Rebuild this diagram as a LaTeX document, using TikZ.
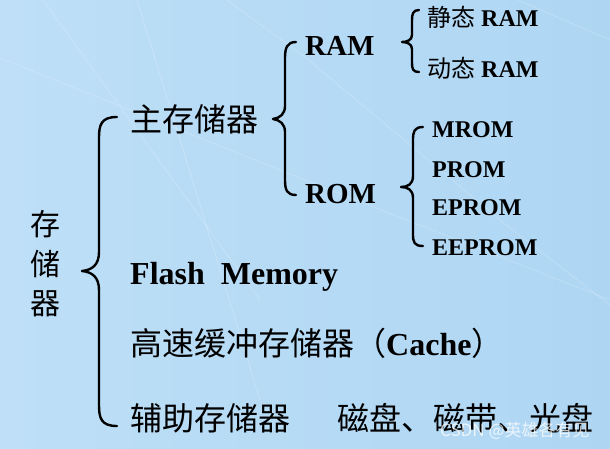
\documentclass[tikz,border=0pt]{standalone}
\usepackage{fontspec}
\setmainfont{Liberation Serif}
\newfontfamily\cjk{Noto Sans CJK SC}
\tikzset{
  brace/.style={line width=2.4pt, line cap=round, line join=round, draw=black},
  bgline/.style={draw=white, opacity=0.2, line width=0.8pt},
  lbl/.style={anchor=base west, inner sep=0pt, text=black},
  big/.style={font=\fontsize{32}{38}\selectfont},
  mid/.style={font=\fontsize{29}{34}\selectfont\bfseries},
  small/.style={font=\fontsize{24}{28}\selectfont},
  smallb/.style={font=\fontsize{24}{28}\selectfont\bfseries},
}
\begin{document}
\begin{tikzpicture}[x=1pt,y=-1pt]
\useasboundingbox (0,0) rectangle (610,448);
\shade[left color={rgb,255:red,190;green,223;blue,247}, right color={rgb,255:red,174;green,214;blue,243}] (0,0) rectangle (610,448);
% faint background streaks
\draw[bgline] (43,0) -- (260,300);
\draw[bgline] (137,0) -- (260,400);
\draw[bgline] (227,0) -- (305,57) -- (505,224) -- (610,305);
\draw[bgline] (0,58) -- (305,180) -- (610,300);
\draw[bgline] (518,0) -- (610,40);

% left vertical label
\node[anchor=base, inner sep=0pt, font=\fontsize{30}{36}\selectfont\cjk] (c1) at (45,235) {存};
\node[anchor=base, inner sep=0pt, font=\fontsize{30}{36}\selectfont\cjk] (c2) at (45,275) {储};
\node[anchor=base, inner sep=0pt, font=\fontsize{30}{36}\selectfont\cjk] (c3) at (45,314) {器};

% main brace
\draw[brace] (117,117) .. controls (101,117) and (99,125) .. (99,138) -- (99,252) .. controls (99,265) and (92,270) .. (82,271) .. controls (92,272) and (99,277) .. (99,290) -- (99,405) .. controls (99,418) and (101,426) .. (117,426);

% level 1
\node[lbl, big] (main) at (130,131) {\cjk 主存储器};
\node[lbl, big] (flash) at (130,284) {\bfseries Flash\ \ Memory};
\node[lbl, big] (cache) at (130,355) {{\cjk 高速缓冲存储器（}{\bfseries Cache}{\cjk ）}};
\node[lbl, big] (aux) at (130,430) {\cjk 辅助存储器};
\node[lbl, big] (media) at (337,430) {\cjk 磁盘、磁带、光盘};

% brace for main memory
\draw[brace] (296,42) .. controls (287,42) and (285,48) .. (285,58) -- (285,106) .. controls (285,114) and (280,118) .. (273,119) .. controls (280,120) and (285,124) .. (285,132) -- (285,180) .. controls (285,190) and (287,195) .. (296,195);

\node[lbl, mid] (ram) at (305,55) {RAM};
\node[lbl, mid] (rom) at (305,203) {ROM};

% RAM brace
\draw[brace] (419,10) .. controls (413,10) and (412,14) .. (412,20) -- (412,35) .. controls (412,40) and (407,42) .. (402,42) .. controls (407,42) and (412,44) .. (412,49) -- (412,63) .. controls (412,69) and (413,72) .. (419,72);
\node[lbl, small] (sram) at (427,26) {{\cjk 静态} \bfseries RAM};
\node[lbl, small] (dram) at (427,77) {{\cjk 动态} \bfseries RAM};

% ROM brace
\draw[brace] (423,127) .. controls (414,127) and (413,132) .. (413,140) -- (413,176) .. controls (413,184) and (408,187) .. (401,187) .. controls (408,187) and (413,190) .. (413,198) -- (413,234) .. controls (413,242) and (414,246) .. (423,246);
\node[lbl, smallb] (mrom) at (432,137) {MROM};
\node[lbl, smallb] (prom) at (432,177) {PROM};
\node[lbl, smallb] (eprom) at (432,215) {EPROM};
\node[lbl, smallb] (eeprom) at (432,255) {EEPROM};

% watermark
\node[lbl, text=white, text opacity=0.75, font=\fontsize{17}{20}\selectfont\cjk] (wm) at (440,436) {CSDN @英雄各有见};
\end{tikzpicture}
\end{document}
